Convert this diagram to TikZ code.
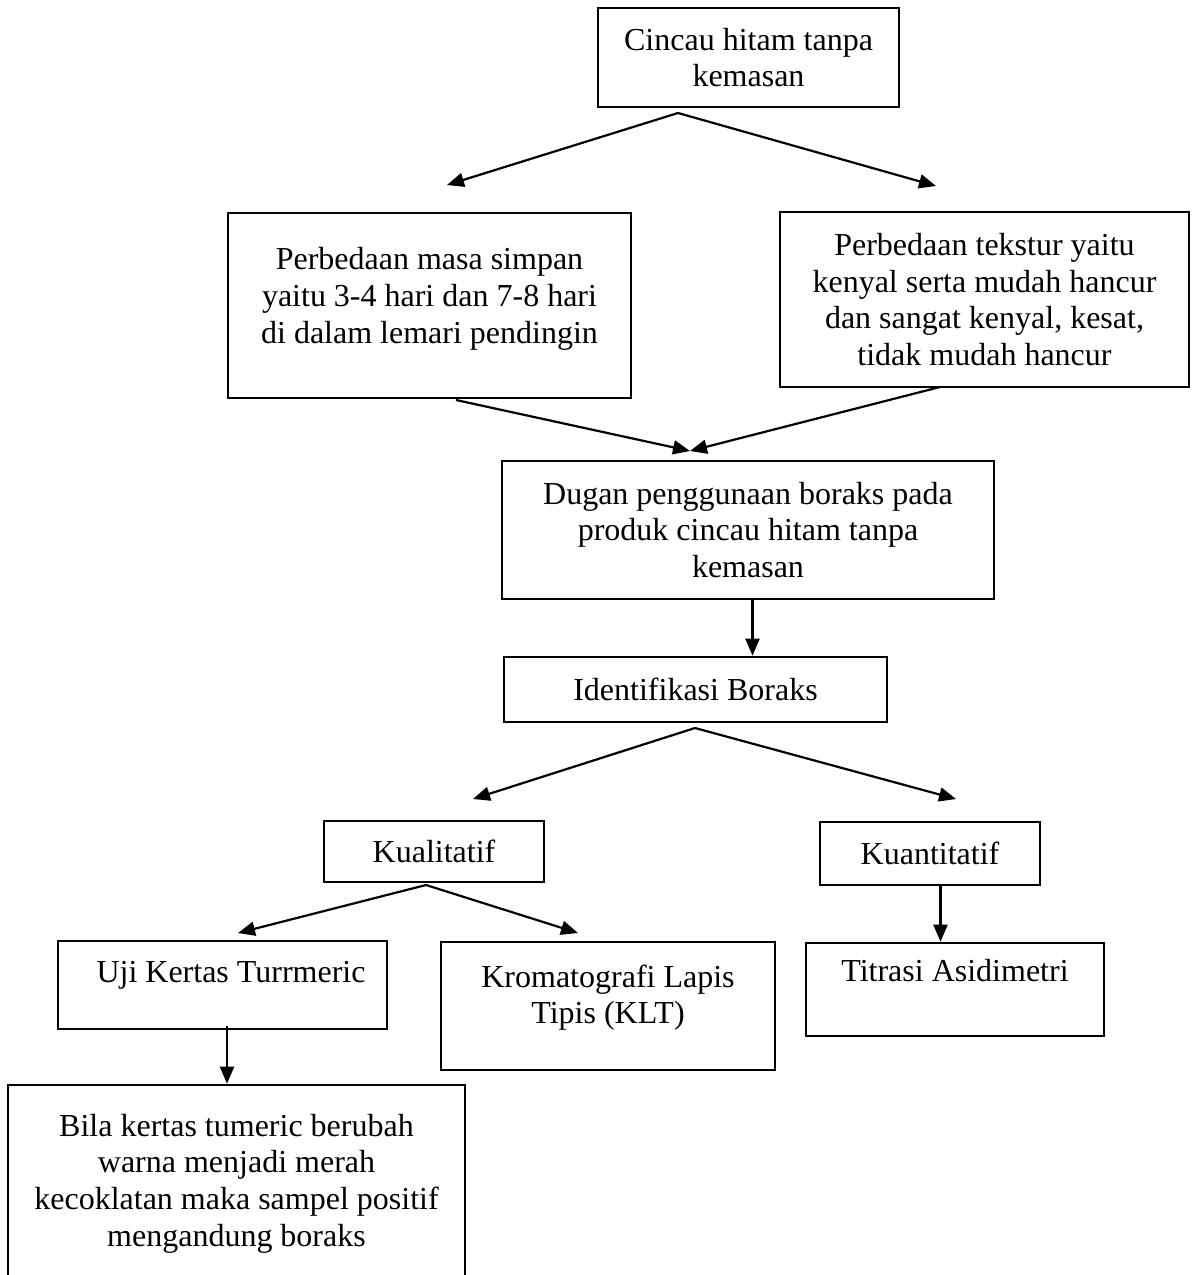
\documentclass[tikz,border=0pt]{standalone}
\usepackage{fontspec}
\setmainfont{Liberation Serif}
\usetikzlibrary{arrows.meta}
\begin{document}
\begin{tikzpicture}[x=0.5pt,y=-0.5pt,
  kotak/.style={draw,line width=1.3pt,align=center,inner sep=0pt,
    font=\fontsize{16pt}{18.35pt}\selectfont},
  panah/.style={-{Triangle[length=8.5pt,width=7pt]},line width=1.1pt}]
\useasboundingbox (0,0) rectangle (1191,1275);
\clip (0,0) rectangle (1191,1275);

\node[kotak,minimum width=150.5pt,minimum height=49.5pt] (cincau) at (748.5,57.5) {Cincau hitam tanpa\\kemasan};
\node[kotak,minimum width=201.5pt,minimum height=92.5pt,text height=41pt,text depth=3.5pt] (masa) at (429.5,305.5)
  {Perbedaan masa simpan\\yaitu 3-4 hari dan 7-8 hari\\di dalam lemari pendingin};
\node[kotak,minimum width=204.5pt,minimum height=87.5pt] (tekstur) at (984.5,299.5)
  {Perbedaan tekstur yaitu\\kenyal serta mudah hancur\\dan sangat kenyal, kesat,\\tidak mudah hancur};
\node[kotak,minimum width=246pt,minimum height=69pt] (dugaan) at (748,530)
  {Dugan penggunaan boraks pada\\produk cincau hitam tanpa\\kemasan};
\node[kotak,minimum width=191.5pt,minimum height=32.5pt] (identifikasi) at (695.5,689.5) {Identifikasi Boraks};
\node[kotak,minimum width=110pt,minimum height=30.5pt] (kualitatif) at (434,851.5) {Kualitatif};
\node[kotak,minimum width=110pt,minimum height=31.5pt] (kuantitatif) at (930,853.5) {Kuantitatif};
\node[kotak,minimum width=164.5pt,minimum height=44pt,text height=11pt,text depth=14pt] (uji) at (222.5,985) {\hspace{8.5pt}Uji Kertas Turrmeric};
\node[kotak,minimum width=167pt,minimum height=64pt,text height=21.2pt,text depth=3.5pt] (klt) at (608,1006)
  {Kromatografi Lapis\\Tipis (KLT)};
\node[kotak,minimum width=149pt,minimum height=46.5pt,text height=11pt,text depth=18.8pt] (titrasi) at (955,989.5) {Titrasi Asidimetri};
\node[kotak,minimum width=228.5pt,minimum height=98.5pt] (bila) at (236.5,1183.5)
  {Bila kertas tumeric berubah\\warna menjadi merah\\kecoklatan maka sampel positif\\mengandung boraks};

% titik pangkal dan ujung panah
\coordinate (c1) at (678,113);
\coordinate (c1a) at (447,185);
\coordinate (c1b) at (936,186);
\coordinate (m1) at (456,400);
\coordinate (t1) at (940,387);
\coordinate (d1) at (690,451);
\coordinate (d2) at (752.5,599);
\coordinate (i1) at (695,728);
\coordinate (i1a) at (473,799);
\coordinate (i1b) at (956,799);
\coordinate (k1) at (426,885);
\coordinate (k1a) at (238,933);
\coordinate (k1b) at (578,933);
\coordinate (q1) at (940.5,885);
\coordinate (u1) at (227,1026);

\draw[panah] (c1) -- (c1a);
\draw[panah] (c1) -- (c1b);
\draw[panah] (m1) -- (d1);
\draw[panah] (t1) -- (d1);
\draw[panah] (d2) -- (d2 |- identifikasi.north);
\draw[panah] (i1) -- (i1a);
\draw[panah] (i1) -- (i1b);
\draw[panah] (k1) -- (k1a);
\draw[panah] (k1) -- (k1b);
\draw[panah] (q1) -- (q1 |- titrasi.north);
\draw[panah] (u1) -- (u1 |- bila.north);
\end{tikzpicture}
\end{document}
